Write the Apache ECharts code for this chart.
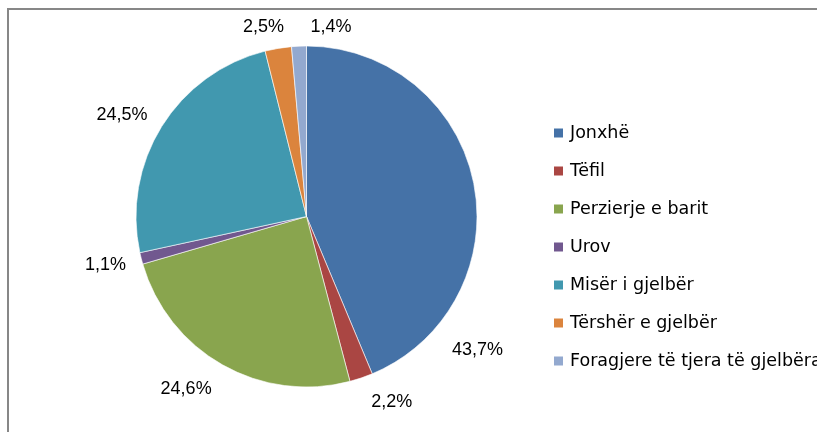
<!DOCTYPE html>
<html>
<head>
<meta charset="utf-8">
<script src="https://cdn.jsdelivr.net/npm/echarts@6/dist/echarts.min.js"></script>
<style>
  html, body { margin: 0; padding: 0; background: #fff; }
  #PieChart { width: 817px; height: 432px; }
</style>
</head>
<body>
<div id="PieChart"></div>
<script>
// data (percent)
const categories = [
  "Jonxhë",
  "Tëfil",
  "Perzierje e barit",
  "Urov",
  "Misër i gjelbër",
  "Tërshër e gjelbër",
  "Foragjere të tjera të gjelbëra"
];
const shares = [43.7, 2.2, 24.6, 1.1, 24.5, 2.5, 1.4];
const colors = ["#4572A7", "#AA4643", "#89A54E", "#71588F", "#4198AF", "#DB843D", "#93A9CF"];

// where Excel put each label: angle clockwise from top (deg), distance from centre (px)
const labelAngle = [127.9, 155.3, 214.9, 256.3, 298.8, 347.2, 7.4];
const labelDist = [216.6, 204.1, 210.4, 206.9, 210.6, 193.8, 190.6];

const cx = 306.5, cy = 216.5;

const chartDom = document.getElementById("PieChart");
const myChart = echarts.init(chartDom, null, { renderer: "canvas" });

const series_data = categories.map((name, i) => ({
  name: name,
  value: shares[i],
  itemStyle: { color: colors[i] }
}));

const option = {
  animation: false,
  textStyle: { fontFamily: "Liberation Sans" },
  graphic: [
    {
      type: "rect",
      shape: { x: 8, y: 9, width: 820, height: 440 },
      style: { fill: "none", stroke: "#878787", lineWidth: 2 },
      silent: true
    }
  ],
  legend: {
    orient: "vertical",
    left: 552,
    top: 124,
    padding: 0,
    itemWidth: 11,
    itemHeight: 11,
    itemGap: 20,
    icon: "rect",
    data: categories,
    textStyle: {
      fontSize: 17.5,
      lineHeight: 18,
      color: "#000",
      fontFamily: "DejaVu Sans",
      padding: [0, 0, 0, 1]
    }
  },
  series: [
    {
      type: "pie",
      center: [cx, cy],
      radius: 170.5,
      startAngle: 90,
      clockwise: true,
      avoidLabelOverlap: false,
      itemStyle: { borderColor: "#fff", borderWidth: 0.6 },
      label: {
        show: true,
        position: "outside",
        fontSize: 18,
        color: "#000",
        fontFamily: "Liberation Sans",
        formatter: (p) => p.value.toFixed(1).replace(".", ",") + "%"
      },
      labelLine: { show: false },
      labelLayout: function (params) {
        const i = params.dataIndex;
        const a = labelAngle[i] * Math.PI / 180;
        return {
          x: cx + labelDist[i] * Math.sin(a),
          y: cy - labelDist[i] * Math.cos(a),
          align: "center",
          verticalAlign: "middle"
        };
      },
      emphasis: { disabled: true },
      data: series_data
    }
  ]
};
option && myChart.setOption(option);
window.addEventListener("resize", myChart.resize);
</script>
</body>
</html>
